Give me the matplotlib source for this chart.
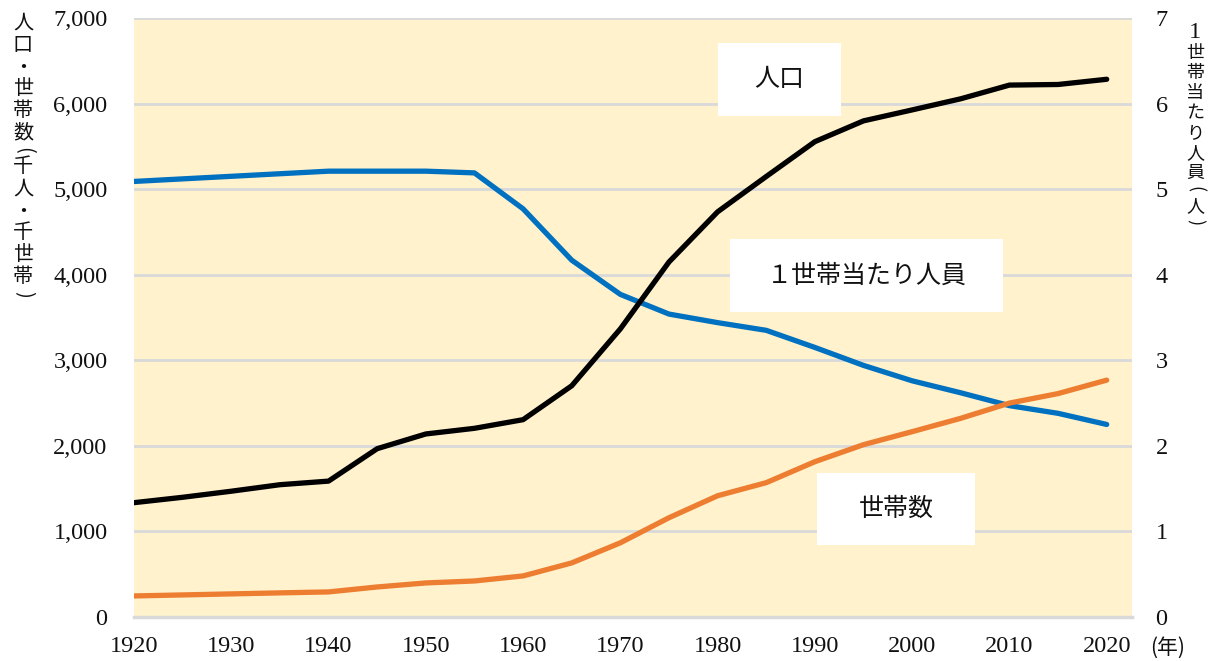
import matplotlib
matplotlib.use("Agg")
import matplotlib.pyplot as plt
from matplotlib.patches import Rectangle

# ---- data ----
years = [1920, 1925, 1930, 1935, 1940, 1945, 1950, 1955, 1960, 1965, 1970,
         1975, 1980, 1985, 1990, 1995, 2000, 2005, 2010, 2015, 2020]
population = [1336, 1399, 1470, 1546, 1588, 1967, 2139, 2205, 2306, 2702, 3367,
              4149, 4735, 5148, 5555, 5798, 5926, 6056, 6216, 6223, 6284]
households = [246, 258, 270, 282, 293, 351, 398, 421, 480, 632, 867,
              1160, 1417, 1570, 1815, 2014, 2166, 2322, 2500, 2611, 2768]
per_household = [5.09, 5.12, 5.15, 5.18, 5.21, 5.21, 5.21, 5.19, 4.77, 4.17, 3.77,
                 3.54, 3.44, 3.35, 3.15, 2.94, 2.76, 2.62, 2.47, 2.38, 2.25]
x_ticks = [1920, 1930, 1940, 1950, 1960, 1970, 1980, 1990, 2000, 2010, 2020]
left_ticks = [0, 1000, 2000, 3000, 4000, 5000, 6000, 7000]
right_ticks = [0, 1, 2, 3, 4, 5, 6, 7]

label_pop = "人口"
label_per = "１世帯当たり人員"
label_hh = "世帯数"
left_axis_label = "人口・世帯数(千人・千世帯)"
right_axis_label = "1世帯当たり人員(人)"
x_unit = "(年)"

# ---- style ----
W, H = 1216, 661
plt.rcParams['font.family'] = ['Liberation Serif', 'Noto Sans CJK JP', 'DejaVu Sans']
JP = ['Noto Sans CJK JP', 'DejaVu Sans']
BG = '#FFF2CC'
GRID = '#D9D9D9'
C_POP = '#000000'
C_HH = '#ED7D31'
C_PER = '#0070C0'
TXT = '#111111'
LW = 3.8

fig = plt.figure(figsize=(W / 100, H / 100), dpi=100)
fig.patch.set_facecolor('white')

def fx(px):
    return px / W

def fy(px):
    return 1 - px / H

ax_l, ax_r, ax_t, ax_b = 134, 1132, 18, 617
ax = fig.add_axes([fx(ax_l), fy(ax_b), fx(ax_r - ax_l), (ax_b - ax_t) / H])
ax2 = ax.twinx()

# ax2 holds the background, the grid and the blue line; ax on top
ax.set_zorder(ax2.get_zorder() + 1)
ax.patch.set_visible(False)
ax2.patch.set_visible(True)
ax2.patch.set_facecolor(BG)

ax.set_xlim(1920, 2022.6)
ax.set_ylim(0, 7000)
ax2.set_ylim(0, 7)

ax2.set_xticks(x_ticks)
ax2.set_yticks(right_ticks)
ax2.grid(True, color=GRID, linewidth=2.0)
ax2.set_axisbelow(True)

ax2.plot(years, per_household, color=C_PER, linewidth=LW, solid_capstyle='round', zorder=3)
ax.plot(years, households, color=C_HH, linewidth=LW, solid_capstyle='round', zorder=3)
ax.plot(years, population, color=C_POP, linewidth=LW, solid_capstyle='round', zorder=4)

ax.set_xticks(x_ticks)
ax.set_xticklabels([str(v) for v in x_ticks])
ax.set_yticks(left_ticks)
ax.set_yticklabels([f"{v:,}" for v in left_ticks])
ax2.set_yticklabels([str(v) for v in right_ticks])

for a in (ax, ax2):
    for s in a.spines.values():
        s.set_visible(False)
ax2.spines['bottom'].set_visible(True)
ax2.spines['bottom'].set_color(GRID)
ax2.spines['bottom'].set_linewidth(2.5)

ax.tick_params(axis='x', length=0, pad=14, labelsize=17.5, labelcolor=TXT)
ax.tick_params(axis='y', length=0, pad=19, labelsize=17.5, labelcolor=TXT)
ax2.tick_params(axis='y', length=0, pad=17, labelsize=17.5, labelcolor=TXT)
ax2.tick_params(axis='x', length=0, labelbottom=False)

# ---- label boxes ----
def box(x0, y0, x1, y1, text, size):
    fig.add_artist(Rectangle((fx(x0), fy(y1)), fx(x1 - x0), (y1 - y0) / H,
                             transform=fig.transFigure, facecolor='white',
                             edgecolor='none', zorder=10))
    fig.text(fx((x0 + x1) / 2), fy((y0 + y1) / 2), text, ha='center', va='center',
             fontsize=size, family=JP, color=TXT, zorder=11)

box(718, 43, 841, 116, label_pop, 18)
box(730, 239, 1003, 312, label_per, 18)
box(817, 473, 975, 545, label_hh, 18)

# ---- vertical axis titles ----
def vtext(xc, ytop, text, size, adv, bracket_adv):
    cur = ytop
    for ch in text:
        if ch in '()':
            a = bracket_adv
            rot = -90
        else:
            a = adv
            rot = 0
        if ch.isdigit():
            fam, sz = ['Liberation Serif'], size * 1.35
        else:
            fam, sz = JP, size
        fig.text(fx(xc), fy(cur + a / 2), ch, ha='center', va='center',
                 rotation=rot, fontsize=sz, family=fam, color=TXT)
        cur += a

vtext(23, 12, left_axis_label, 14.5, 22, 12)
vtext(1195, 23, right_axis_label, 13, 20, 13)

fig.text(fx(1168), fy(648), x_unit, ha='center', va='center', fontsize=15,
         family=JP, color=TXT)

fig.savefig('out.png', dpi=100, facecolor='white')
